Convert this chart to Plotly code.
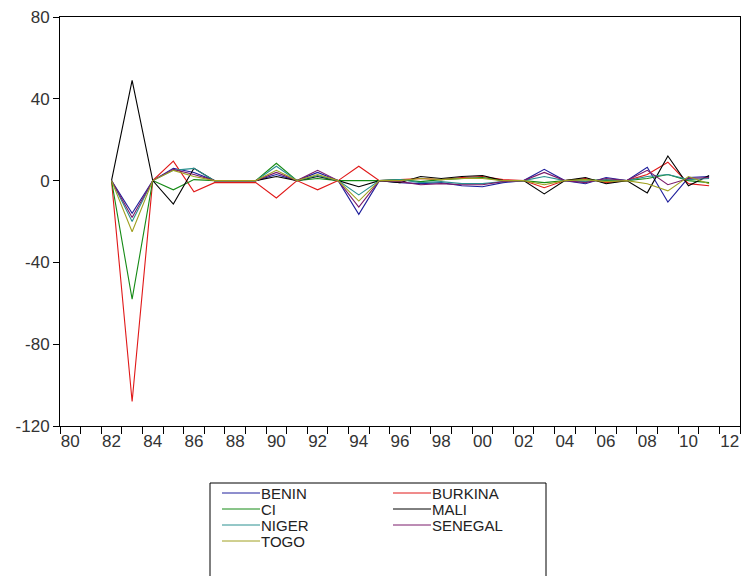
import plotly.graph_objects as go

years = list(range(1982, 2012))

series_names = ["BENIN", "BURKINA", "CI", "MALI", "NIGER", "SENEGAL", "TOGO"]
series_colors = ["#1f1f9c", "#e01818", "#158a15", "#000000", "#2a9090", "#7a1a6a", "#a0a020"]

benin = [0, -16, 0, 6, 4, 0, 0, 0, 3, 0, 4, 0, -16.5, 0, -1, -1.5, -1, -2.5, -3, -1,
         0, 5.5, 0, -1.5, 1.5, 0, 6.5, -10.5, 1.5, 2]
burkina = [0, -108, 0, 9.5, -5.5, -1, -1, -1, -8.5, 0, -4.5, 0, 7, 0, 0.5, 1, 0.5, 1.5, 2, 0.5,
           0, -3.5, 0, 1, -1, 0, 3, 9, -1.5, -2.5]
ci = [0, -58, 0, -4.5, 0.5, 0, 0, 0, 8.5, 0, 1, 0, 0, 0, 0.5, -0.5, 0.5, 1, 1.5, 0,
      0, -1, 0, 0.5, 0, 0, 1, 3, 0, -1]
mali = [0, 49, 0, -11.5, 6, 0, 0, 0, 2, 0, 2, 0, -3, 0, -1, 2, 1, 2, 2.5, 0,
        0, -6.5, 0, 1.5, -1.5, 0, -6, 12, -2.5, 2.5]
niger = [0, -20, 0, 5, 6, 0, 0, 0, 7, 0, 2.5, 0, -7, 0, 0.5, -1, -0.5, -1.5, -1.5, -0.5,
         0, 2, 0, -0.5, 0.5, 0, 2, 3, 0.5, 1]
senegal = [0, -18, 0, 5.5, 3, 0, 0, 0, 4, 0, 5, 0, -13, 0, -0.5, -2, -1.5, -2, -2, -0.5,
           0, 4, 0, -1, 1, 0, 5, -2, 1, 1.5]
togo = [0, -25, 0, 5, 2, 0, 0, 0, 5, 0, 3, 0, -10, 0, 0, 1, 0.5, 1, 1, 0,
        0, -2, 0, 0.5, -0.5, 0, -1.5, -5, 2, -1.5]

series_values = [benin, burkina, ci, mali, niger, senegal, togo]

x_tick_years = list(range(1980, 2013, 2))
x_tick_labels = [f"{y % 100:02d}" for y in x_tick_years]
y_ticks = [-120, -80, -40, 0, 40, 80]
y_tick_labels = ["-120", "-80", "-40", "0", "40", "80"]

W, H = 741, 576
ML, MR, MT, MB = 60, 1, 17, 150

fig = go.Figure()
for name, color, vals in zip(series_names, series_colors, series_values):
    fig.add_trace(go.Scatter(x=years, y=vals, mode="lines", name=name,
                             line=dict(color=color, width=1.1), showlegend=False))

font_family = "Liberation Sans, Arial, sans-serif"

fig.update_layout(
    width=W, height=H,
    margin=dict(l=ML, r=MR, t=MT, b=MB, autoexpand=False),
    paper_bgcolor="white", plot_bgcolor="white",
    font=dict(family=font_family, size=16, color="#333333"),
    xaxis=dict(range=[1979.5, 2012.5], tickmode="array", tickvals=x_tick_years,
               ticktext=x_tick_labels, ticks="", showgrid=False, zeroline=False,
               showline=True, linecolor="black", linewidth=1, mirror=True,
               automargin=False,
               tickfont=dict(size=17, color="#333333"),
               minor=dict(tickmode="linear", tick0=1979.5, dtick=1, ticks="outside",
                          ticklen=7, tickcolor="black", tickwidth=1, showgrid=False)),
    yaxis=dict(range=[-120, 80], tickmode="array", tickvals=y_ticks,
               ticktext=y_tick_labels, automargin=False,
               ticks="outside", ticklen=6, tickcolor="black", showgrid=False,
               zeroline=False, showline=True, linecolor="black", linewidth=1,
               mirror=True, tickfont=dict(size=17, color="#333333")),
)

# Legend built from the series lists (box, line samples, labels)
pw = W - ML - MR
ph = H - MT - MB


def px_x(px):
    return (px - ML) / pw


def px_y(py):
    return (H - MB - py) / ph


fig.add_shape(type="rect", xref="paper", yref="paper",
              x0=px_x(210), x1=px_x(546), y0=px_y(483), y1=px_y(590),
              line=dict(color="black", width=1), fillcolor="white")

row_y = [493, 509, 525, 541]
col_x = [(222, 260), (393, 431)]
for i, (name, color) in enumerate(zip(series_names, series_colors)):
    r, c = divmod(i, 2)
    lx0, lx1 = col_x[c]
    yy = row_y[r]
    fig.add_shape(type="line", xref="paper", yref="paper",
                  x0=px_x(lx0), x1=px_x(lx1), y0=px_y(yy), y1=px_y(yy),
                  line=dict(color=color, width=1))
    fig.add_annotation(xref="paper", yref="paper", x=px_x(lx1), y=px_y(yy),
                       text=name, showarrow=False, xanchor="left", yanchor="middle",
                       borderpad=0,
                       font=dict(family=font_family, size=15, color="#222222"))

fig.write_html("out.html", config={"displayModeBar": False},
               post_script="document.body.style.margin='0';document.body.style.overflow='hidden';")
